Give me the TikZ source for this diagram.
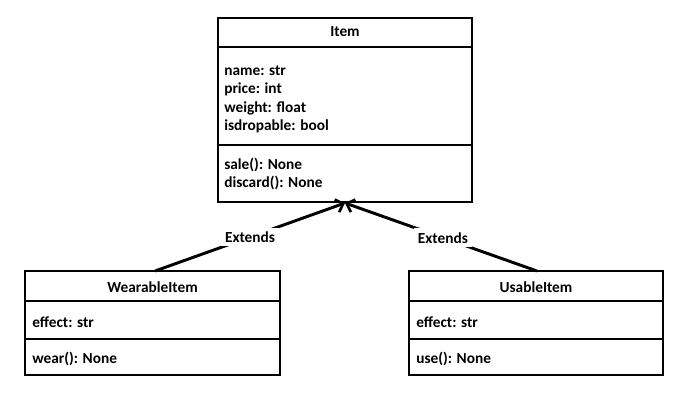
\documentclass[tikz,border=0pt]{standalone}
\usepackage{fontspec}
\setmainfont{Carlito}
\usetikzlibrary{arrows.meta}
\begin{document}
\begin{tikzpicture}[x=0.75pt,y=-0.75pt,
  box/.style={draw=black,line width=1.5pt,rectangle,inner sep=0pt},
  sepline/.style={draw=black,line width=1.5pt},
  title/.style={inner sep=0pt,font=\bfseries\fontsize{11.5}{13.8}\selectfont},
  txt/.style={inner sep=0pt,anchor=west,align=left,font=\bfseries\fontsize{11.5}{13.8}\selectfont},
  conn/.style={draw=black,line width=2.2pt,-{Straight Barb[length=5pt,width=10pt,line width=2pt]}},
  lbl/.style={fill=white,inner sep=3pt,font=\bfseries\fontsize{11.5}{13.8}\selectfont}]
\useasboundingbox[fill=white] (0,0) rectangle (697,411);
% Item
\node[box,minimum width=190.5pt,minimum height=138pt] (item) at (345,110) {};
\draw[sepline] (218,47) -- (472,47);
\draw[sepline] (218,145) -- (472,145);
\node[title] (itemt) at (345,32) {Item};
\node[txt] (itema) at (224,99.5) {name: str\\price: int\\weight: float\\isdropable: bool};
\node[txt] (itemm) at (224,174) {sale(): None\\discard(): None};
% WearableItem
\node[box,minimum width=191.25pt,minimum height=78pt] (wear) at (152.5,323) {};
\draw[sepline] (25,301) -- (280,301);
\draw[sepline] (25,339) -- (280,339);
\node[title] (weart) at (152.5,287) {WearableItem};
\node[txt] (weara) at (32,322) {effect: str};
\node[txt] (wearm) at (32,359) {wear(): None};
% UsableItem
\node[box,minimum width=190.5pt,minimum height=78pt] (use) at (536,323) {};
\draw[sepline] (409,301) -- (663,301);
\draw[sepline] (409,339) -- (663,339);
\node[title] (uset) at (536,287) {UsableItem};
\node[txt] (usea) at (416,322) {effect: str};
\node[txt] (usem) at (416,359) {use(): None};
% connectors
\coordinate (tip) at (345,203);
\draw[conn] (155,271) -- node[lbl,pos=0.5] (ext1) {Extends} (tip);
\draw[conn] (537,271) -- node[lbl,pos=0.49] (ext2) {Extends} (tip);
\end{tikzpicture}
\end{document}
